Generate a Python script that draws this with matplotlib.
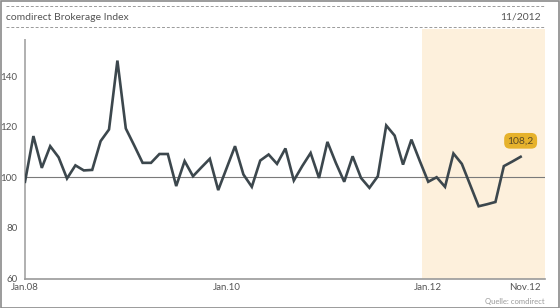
import numpy as np
import matplotlib
matplotlib.use("Agg")
import matplotlib.pyplot as plt
from matplotlib.patches import Rectangle

plt.rcParams['font.family'] = ['Lato', 'DejaVu Sans']

# monthly index values, Jan.08 .. Nov.12
index_values = [
    98.3, 116.4, 103.8, 112.4, 108.0, 99.6, 104.8, 102.8, 103.0, 114.4,
    119.0, 146.3, 119.4, 112.7, 105.8, 105.8, 109.3, 109.3, 96.6, 106.5,
    100.5, 104.0, 107.4, 95.0, 103.7, 112.4, 101.2, 96.3, 106.7, 109.1,
    105.4, 111.5, 98.8, 104.5, 109.7, 99.8, 114.1, 105.8, 98.3, 108.4,
    99.8, 95.9, 100.5, 120.6, 116.6, 105.1, 115.0, 106.5, 98.3, 100.1,
    96.3, 109.5, 105.4, 97.0, 88.6, 89.4, 90.3, 104.5, 106.3, 108.2,
]
x_ticks = [0, 24, 48, 59.5]
x_labels = ['Jan.08', 'Jan.10', 'Jan.12', 'Nov.12']
y_ticks = [60, 80, 100, 120, 140]
title = 'comdirect Brokerage Index'
date_label = '11/2012'
last_label = '108,2'
source = 'Quelle: comdirect'
highlight_start = 47.3   # start of the 2012 shading

x = np.arange(len(index_values))

fig = plt.figure(figsize=(5.6, 3.08), dpi=100)
ax = fig.add_axes([25 / 560, 29.5 / 308, 520 / 560, 250 / 308])
ax.set_xlim(0, 61.9)
ax.set_ylim(60, 159)

# shaded current year
ax.axvspan(highlight_start, 61.9, color='#fdf0dc', zorder=0, lw=0)

# reference line at 100
ax.axhline(100, color='#7a7a7a', lw=0.8, zorder=1)

ax.plot(x, index_values, color='#3c474d', lw=1.9, solid_joinstyle='miter', zorder=3)

# axes lines
for s in ['top', 'right', 'left']:
    ax.spines[s].set_visible(False)
ax.spines['bottom'].set_color('#9a9a9a')
ax.spines['bottom'].set_linewidth(1.2)
ax.plot([0, 0], [60, 154.5], color='#b0b0b0', lw=1.4, clip_on=False, zorder=2)

ax.set_yticks(y_ticks)
ax.set_yticklabels([str(v) for v in y_ticks])
ax.set_xticks(x_ticks)
ax.set_xticklabels(x_labels)
ax.tick_params(axis='y', length=0, pad=5.5, labelsize=7, labelcolor='#555555')
ax.tick_params(axis='x', length=0, pad=3, labelsize=7, labelcolor='#555555')

# value label for the last point
ax.annotate(last_label, (x[-1], index_values[-1]), xytext=(0, 11.5),
            textcoords='offset points', ha='center', va='center',
            fontsize=7.5, color='#5b4a25',
            bbox=dict(boxstyle='round,pad=0.32,rounding_size=0.55',
                      fc='#e6b22c', ec='none'))

# header
fig.text(6 / 560, 1 - 17 / 308, title, fontsize=7.5, color='#555555',
         ha='left', va='center')
fig.text(541 / 560, 1 - 17 / 308, date_label, fontsize=7.5, color='#555555',
         ha='right', va='center')
for yy in [6.4, 27]:
    fig.add_artist(plt.Line2D([6 / 560, 545 / 560], [1 - yy / 308, 1 - yy / 308],
                              color='#9a9a9a', lw=0.7, ls=(0, (3, 2))))

fig.text(545 / 560, 1 - 301.7 / 308, source, fontsize=5.5, color='#9a9a9a',
         ha='right', va='center')

# outer frame
fig.add_artist(Rectangle((0.5 / 560, 0.5 / 308), 558.5 / 560, 306.5 / 308,
                         transform=fig.transFigure, fill=False,
                         ec='#8a8a8a', lw=1.2))

fig.savefig('out.png', dpi=100)
